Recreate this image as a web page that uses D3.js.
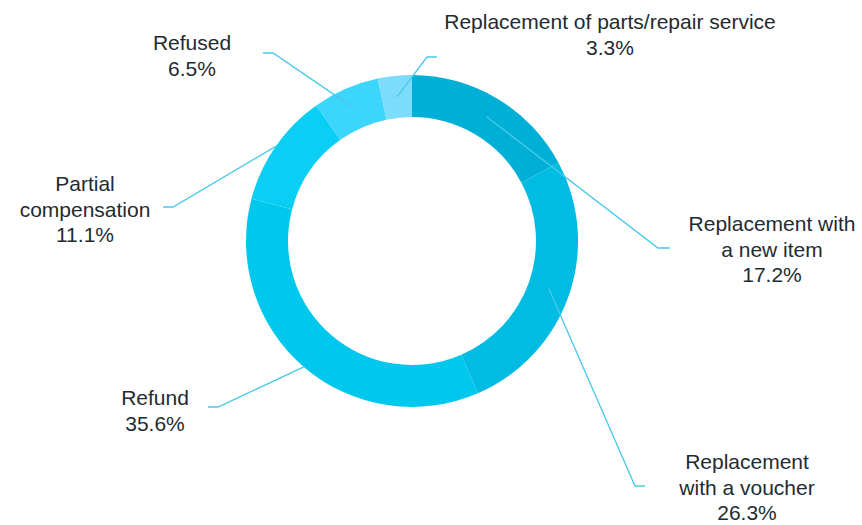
<!DOCTYPE html>
<html>
<head>
<meta charset="utf-8">
<script src="https://cdn.jsdelivr.net/npm/d3@7/dist/d3.min.js"></script>
<style>
  html, body { margin: 0; padding: 0; background: #ffffff; }
  svg { display: block; }
  text { font-family: "Helvetica Neue", "Liberation Sans", Arial, sans-serif; }
</style>
</head>
<body>
<svg id="chart" width="862" height="525"></svg>
<script>
// Outcome of consumer complaints, share of cases (%), clockwise from 12 o'clock
const categories = [
  "Replacement with a new item",
  "Replacement with a voucher",
  "Refund",
  "Partial compensation",
  "Refused",
  "Replacement of parts/repair service"
];
const shares = [17.2, 26.3, 35.6, 11.1, 6.5, 3.3];
const labelLines = [
  ["Replacement with", "a new item"],
  ["Replacement", "with a voucher"],
  ["Refund"],
  ["Partial", "compensation"],
  ["Refused"],
  ["Replacement of parts/repair service"]
];
const sliceColors = ["#00afd6", "#00bce2", "#00c7ec", "#0acff5", "#3cd6fc", "#7ddcfb"];

// ---- layout ----
const W = 862, H = 525;
const cx = 412, cy = 241;
const outerR = 166, innerR = 124, anchorR = 145;
const fontSize = 21, lineH = 25.5;

// label placement: text centre x, first baseline y, leader elbow and leader end
const labelLayout = {
  "Replacement with a new item":          { x: 772, y: 231, elbow: [658, 248], end: [670, 248] },
  "Replacement with a voucher":           { x: 747, y: 469, elbow: [635, 486], end: [645, 486] },
  "Refund":                               { x: 155, y: 405, elbow: [218, 407], end: [208, 407] },
  "Partial compensation":                 { x: 85,  y: 191, elbow: [173, 207], end: [163, 207] },
  "Refused":                              { x: 192, y: 50,  elbow: [273, 53],  end: [263, 53] },
  "Replacement of parts/repair service":  { x: 610, y: 29,  elbow: [427, 57],  end: [437, 57] }
};

const svg = d3.select("#chart");
const data = categories.map((c, i) => ({ name: c, value: shares[i], lines: labelLines[i], color: sliceColors[i] }));

const pie = d3.pie().value(d => d.value).sort(null);
const arc = d3.arc().innerRadius(innerR).outerRadius(outerR);
const anchorArc = d3.arc().innerRadius(anchorR).outerRadius(anchorR);
const arcs = pie(data);

const g = svg.append("g").attr("transform", `translate(${cx},${cy})`);

g.selectAll("path.slice")
  .data(arcs)
  .join("path")
  .attr("class", "slice")
  .attr("d", arc)
  .attr("fill", d => d.data.color);

// segments whose colour hides the leader inside the ring
const hiddenInside = new Set(["Refund", "Partial compensation"]);

// leader lines from the middle of each ring segment to its label
const line = d3.line();
svg.selectAll("path.leader")
  .data(arcs)
  .join("path")
  .attr("class", "leader")
  .attr("d", d => {
    const ang = (d.startAngle + d.endAngle) / 2;
    const r = hiddenInside.has(d.data.name) ? outerR : anchorR;
    const L = labelLayout[d.data.name];
    return line([[cx + r * Math.sin(ang), cy - r * Math.cos(ang)], L.elbow, L.end]);
  })
  .attr("fill", "none")
  .attr("stroke", "#48c9ea")
  .attr("stroke-width", 1.3);

// labels: name lines followed by the share
const fmt = d3.format(".1f");
const labels = svg.selectAll("text.label")
  .data(data)
  .join("text")
  .attr("class", "label")
  .attr("text-anchor", "middle")
  .attr("font-size", fontSize)
  .attr("fill", "#1f2b31");

labels.each(function(d) {
  const L = labelLayout[d.name];
  const t = d3.select(this);
  const rows = d.lines.concat([fmt(d.value) + "%"]);
  rows.forEach((r, i) => {
    t.append("tspan").attr("x", L.x).attr("y", L.y + i * lineH).text(r);
  });
});
</script>
</body>
</html>
